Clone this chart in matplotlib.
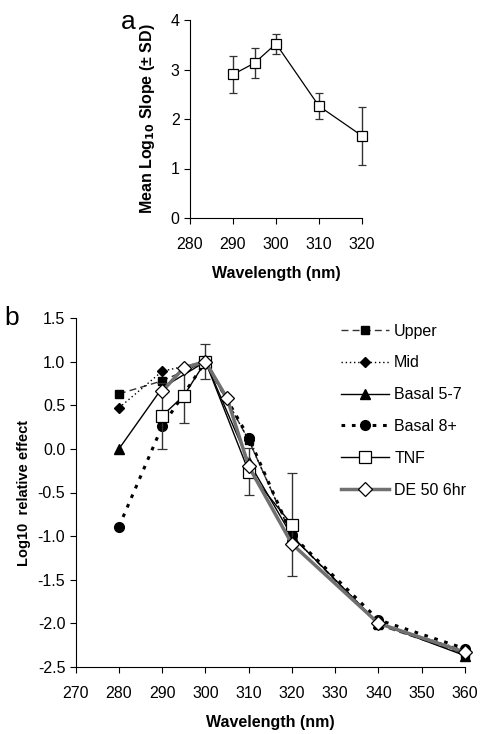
import matplotlib
matplotlib.use("Agg")
import matplotlib.pyplot as plt
import numpy as np

plt.rcParams['font.family'] = ['Liberation Sans', 'DejaVu Sans']

# Panel a data
wl_a = [290, 295, 300, 310, 320]
slope_a = [2.90, 3.13, 3.52, 2.26, 1.66]
sd_a = [0.38, 0.31, 0.20, 0.27, 0.59]

# Panel b data
wl_full = [280, 290, 300, 310, 320, 340, 360]
upper = [0.63, 0.78, 1.00, 0.10, -1.00, -2.02, -2.35]
mid = [0.47, 0.89, 1.00, 0.10, -1.00, -2.00, -2.31]
basal57 = [0.00, 0.70, 1.00, -0.15, -1.00, -2.00, -2.37]
basal8 = [-0.89, 0.26, 1.00, 0.13, -0.99, -1.96, -2.29]
wl_tnf = [290, 295, 300, 310, 320]
tnf = [0.38, 0.61, 1.00, -0.26, -0.87]
tnf_sd = [0.38, 0.31, 0.20, 0.27, 0.59]
wl_de = [290, 295, 300, 305, 310, 320, 340, 360]
de50 = [0.66, 0.93, 1.00, 0.58, -0.20, -1.09, -2.00, -2.33]

fig = plt.figure(figsize=(4.82, 7.34), dpi=100)

# ---- Panel a ----
axa = fig.add_axes([190/482, 1-218/734, 172/482, 198/734])
axa.errorbar(wl_a, slope_a, yerr=sd_a, color='black', lw=0.9, marker='s',
             ms=7, mfc='white', mec='black', mew=0.9, ecolor='#333333',
             elinewidth=1.0, capsize=3, capthick=1.0, zorder=3, clip_on=False)
axa.set_xlim(280, 320)
axa.set_ylim(0, 4)
axa.set_xticks([280, 290, 300, 310, 320])
axa.set_yticks([0, 1, 2, 3, 4])
for s in ['top', 'right']:
    axa.spines[s].set_visible(False)
axa.tick_params(direction='out', length=4, labelsize=11.5, pad=10, axis='x')
axa.tick_params(direction='out', length=4, labelsize=11.5, axis='y')
axa.set_xlabel('Wavelength (nm)', fontsize=11.5, fontweight='bold', labelpad=10)
axa.set_ylabel(r'Mean Log$_{\mathbf{10}}$ Slope (± SD)', fontsize=11.5,
               fontweight='bold', labelpad=10)
fig.text(128/482, 1-22/734, 'a', fontsize=19, ha='center', va='center')

# ---- Panel b ----
axb = fig.add_axes([75.7/482, 1-667/734, 389.3/482, 349/734])
h_up, = axb.plot(wl_full, upper, color='#333333', lw=1.0, ls=(0, (5, 3)),
                 marker='s', ms=6, mfc='black', mec='black', label='Upper',
                 zorder=3, clip_on=False)
h_mid, = axb.plot(wl_full, mid, color='black', lw=1.0, ls=(0, (1, 2)),
                  marker='D', ms=5.5, mfc='black', mec='black', label='Mid',
                  zorder=3, clip_on=False)
h_b57, = axb.plot(wl_full, basal57, color='black', lw=1.0, ls='-',
                  marker='^', ms=7, mfc='black', mec='black', label='Basal 5-7',
                  zorder=3, clip_on=False)
h_b8, = axb.plot(wl_full, basal8, color='black', lw=2.2, ls=(0, (1.2, 2.2)),
                 marker='o', ms=7, mfc='black', mec='black', label='Basal 8+',
                 zorder=3, clip_on=False)
h_tnf = axb.errorbar(wl_tnf, tnf, yerr=tnf_sd, color='black', lw=1.0, marker='s',
                     ms=9, mfc='white', mec='black', mew=0.9, ecolor='#333333',
                     elinewidth=1.0, capsize=3.5, capthick=1.0, label='TNF',
                     zorder=4)
h_de, = axb.plot(wl_de, de50, color='#707070', lw=2.5, ls='-',
                 marker='D', ms=7, mfc='white', mec='black', mew=0.9,
                 label='DE 50 6hr', zorder=5, clip_on=False)
axb.set_xlim(270, 360)
axb.set_ylim(-2.5, 1.5)
axb.set_xticks(np.arange(270, 361, 10))
axb.set_yticks(np.arange(-2.5, 1.51, 0.5))
axb.yaxis.set_major_formatter(matplotlib.ticker.FormatStrFormatter('%.1f'))
for s in ['top', 'right']:
    axb.spines[s].set_visible(False)
axb.tick_params(direction='out', length=4, labelsize=11.5)
axb.tick_params(axis='x', pad=10)
axb.set_xlabel('Wavelength (nm)', fontsize=11.5, fontweight='bold', labelpad=10)
axb.set_ylabel('Log10  relative effect', fontsize=10.5, fontweight='bold',
               labelpad=5)
tnf_handle = matplotlib.lines.Line2D([], [], color='black', lw=1.0, marker='s',
                                     ms=9, mfc='white', mec='black', mew=0.9)
leg = axb.legend([h_up, h_mid, h_b57, h_b8, tnf_handle, h_de],
                 ['Upper', 'Mid', 'Basal 5-7', 'Basal 8+', 'TNF', 'DE 50 6hr'],
                 loc='upper right', bbox_to_anchor=(1.04, 1.025), frameon=False,
                 fontsize=11.5, handlelength=3.0, labelspacing=1.05,
                 handletextpad=0.3)
fig.text(12/482, 1-318/734, 'b', fontsize=19, ha='center', va='center')

fig.savefig('out.png', dpi=100)
